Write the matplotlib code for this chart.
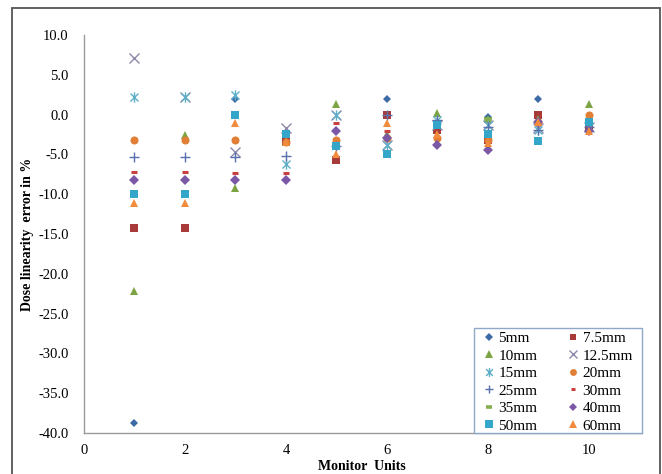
import matplotlib
matplotlib.use("Agg")
import matplotlib.pyplot as plt
import numpy as np
from matplotlib.path import Path
from matplotlib.patches import Rectangle
from matplotlib.ticker import FormatStrFormatter

plt.rcParams['font.family'] = ['Liberation Serif', 'DejaVu Serif']

monitor_units = [1, 2, 3, 4, 5, 6, 7, 8, 9, 10]

s_5mm   = [-38.8, -14.3,  2.0, -2.5, -4.0,  2.0, -1.3, -0.3,  2.0, -0.9]
s_7_5mm = [-14.3, -14.3,  0.0, -3.4, -5.7,  0.0, -1.9, -3.2,  0.0, -1.5]
s_10mm  = [-22.1,  -2.6, -9.2, -3.4,  1.3, -2.4,  0.2, -0.6, -0.6,  1.3]
s_12_5mm = [7.1,    2.2, -4.7, -1.7,  0.0, -3.8, -1.3, -1.3, -1.7, -1.5]
s_15mm  = [2.2,     2.2,  2.4, -6.2,  0.0, -3.8, -0.7, -1.3, -1.9, -1.5]
s_20mm  = [-3.2,   -3.2, -3.2, -3.4, -3.2, -3.0, -3.0, -3.2, -0.9,  0.0]
s_25mm  = [-5.3,   -5.3, -5.3, -5.2, -4.0,  0.0, -0.7, -1.5, -1.9, -1.5]
s_30mm  = [-7.2,   -7.2, -7.3, -7.3, -1.1, -2.1, -1.3, -2.4, -3.3, -0.9]
s_35mm  = [-10.0, -10.0,  0.0, -2.4, -4.0, -4.95, -1.3, -0.6, -3.3, -0.9]
s_40mm  = [-8.2,   -8.2, -8.2, -8.2, -2.1, -3.0, -3.8, -4.4, -0.9, -2.1]
s_50mm  = [-10.0, -10.0,  0.0, -2.4, -4.0, -4.95, -1.3, -2.4, -3.3, -0.9]
s_60mm  = [-11.1, -11.1, -1.0, -3.4, -4.9, -1.1, -2.4, -3.6, -0.9, -2.1]

labels = ["5mm", "7.5mm", "10mm", "12.5mm", "15mm", "20mm",
          "25mm", "30mm", "35mm", "40mm", "50mm", "60mm"]
series = [s_5mm, s_7_5mm, s_10mm, s_12_5mm, s_15mm, s_20mm,
          s_25mm, s_30mm, s_35mm, s_40mm, s_50mm, s_60mm]

# Excel-style asterisk: X plus vertical line
ast_path = Path([(-1, -1), (1, 1), (-1, 1), (1, -1), (0, -1.3), (0, 1.3)],
                [Path.MOVETO, Path.LINETO, Path.MOVETO, Path.LINETO,
                 Path.MOVETO, Path.LINETO])

styles = [
    dict(marker='D', color='#3C6BA6', ms=4.4, mew=0),
    dict(marker='s', color='#A83A3A', ms=5.8, mew=0),
    dict(marker='^', color='#7DA443', ms=6.2, mew=0),
    dict(marker='x', color='#8C8AA8', ms=6.5, mew=1.0),
    dict(marker=ast_path, color='#5EAFC8', ms=7.5, mew=1.0),
    dict(marker='o', color='#E07F35', ms=5.8, mew=0),
    dict(marker='+', color='#5870AE', ms=7.5, mew=1.0),
    dict(marker='_', color='#C8413E', ms=4.0, mew=2.2),
    dict(marker='_', color='#86B050', ms=5.5, mew=2.6),
    dict(marker='D', color='#7A58A6', ms=5.0, mew=0),
    dict(marker='s', color='#34A6C9', ms=6.2, mew=0),
    dict(marker='^', color='#F28C3C', ms=6.2, mew=0),
]

W, H = 662, 474
AX_L, AX_R, AX_T, AX_B = 84, 642, 35, 433
fig = plt.figure(figsize=(W / 100, H / 100), dpi=100)
ax = fig.add_axes([AX_L / W, 1 - AX_B / H, (AX_R - AX_L) / W, (AX_B - AX_T) / H])

handles = []
for lab, vals, st in zip(labels, series, styles):
    h, = ax.plot(monitor_units, vals, linestyle='none', label=lab,
                 marker=st['marker'], color=st['color'], markersize=st['ms'],
                 markeredgewidth=st['mew'], markeredgecolor=st['color'])
    handles.append(h)

ax.set_xlim(0, 11.05)
ax.set_ylim(-40, 10)
ax.set_xticks([0, 2, 4, 6, 8, 10])
ax.set_yticks(np.arange(-40, 10.1, 5))
ax.yaxis.set_major_formatter(FormatStrFormatter('%.1f'))
ax.tick_params(axis='both', length=0, labelsize=10.5, colors='black')
ax.tick_params(axis='y', pad=11)
ax.tick_params(axis='x', pad=8)
for side in ['top', 'right']:
    ax.spines[side].set_visible(False)
for side in ['left', 'bottom']:
    ax.spines[side].set_color('#9A9A9A')
    ax.spines[side].set_linewidth(1.0)

fig.text(28 / W, 1 - 234 / H, "Dose linearity  error in %", rotation=90,
         ha='center', va='center', fontsize=10, fontweight='bold')
fig.text(362 / W, 1 - 466 / H, "Monitor  Units", ha='center', va='center',
         fontsize=10, fontweight='bold')


def px_to_axes(px, py):
    return ((px - AX_L) / (AX_R - AX_L), (AX_B - py) / (AX_B - AX_T))


# legend frame drawn explicitly
x0, y0 = px_to_axes(474, 433)
x1, y1 = px_to_axes(642, 328)
legbox = Rectangle((x0, y0), x1 - x0, y1 - y0, transform=ax.transAxes,
                   facecolor='white', edgecolor='#8FA8C8', linewidth=1.0,
                   zorder=4, clip_on=False)
ax.add_patch(legbox)

# row-major order like the reference legend
order = [0, 2, 4, 6, 8, 10, 1, 3, 5, 7, 9, 11]
leg = ax.legend([handles[i] for i in order], [labels[i] for i in order],
                ncol=2, loc='upper left', bbox_to_anchor=px_to_axes(480, 331.5),
                borderaxespad=0, fontsize=11, frameon=False,
                labelspacing=0.25, handlelength=1.2, handletextpad=0.0,
                columnspacing=1.76, borderpad=0.0, markerscale=0.85)
leg.set_zorder(5)

frame = Rectangle((12 / W, -0.02), (660 - 12) / W, 1 - 8 / H + 0.02,
                  transform=fig.transFigure, fill=False,
                  edgecolor='#555555', linewidth=1.3, clip_on=False)
fig.patches.append(frame)

fig.savefig("out.png", dpi=100)
